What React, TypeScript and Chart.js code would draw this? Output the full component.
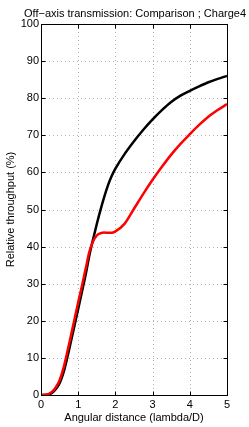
import React, { useEffect, useRef } from "react";
import { Chart, registerables } from "chart.js";

Chart.register(...registerables);

const titleText = "Off\u2212axis transmission: Comparison ; Charge4";
const xTitle = "Angular distance (lambda/D)";
const yTitle = "Relative throughput (%)";

const xValues = [0, 0.1, 0.2, 0.3, 0.4, 0.5, 0.6, 0.7, 0.8, 0.9, 1.0, 1.1, 1.2, 1.3, 1.4, 1.5, 1.6, 1.7, 1.8, 1.9, 2.0, 2.25, 2.5, 2.75, 3.0, 3.25, 3.5, 3.75, 4.0, 4.25, 4.5, 4.75, 5.0];
const blackValues = [0, 0.02, 0.15, 0.6, 1.6, 3.2, 5.9, 9.8, 14.2, 18.7, 23.2, 27.8, 32.4, 37.6, 42, 46.1, 49.9, 53.4, 56.5, 59, 61, 65, 68.4, 71.5, 74.3, 76.8, 79, 80.7, 82, 83.2, 84.3, 85.2, 86];
const redValues = [0, 0.05, 0.25, 0.9, 2.1, 4, 7.1, 11.3, 15.8, 20.4, 25, 29.4, 34, 38.6, 41.4, 43, 43.6, 43.8, 43.7, 43.7, 44.1, 46.2, 50.2, 54.2, 58, 61.5, 64.8, 67.7, 70.3, 72.8, 75, 76.8, 78.4];

const xTicks = [0, 1, 2, 3, 4, 5];
const yTicks = [0, 10, 20, 30, 40, 50, 60, 70, 80, 90, 100];

const FONT = "'Liberation Sans', Arial, Helvetica, sans-serif";

const decorPlugin = {
  id: "matlabDecor",
  beforeDatasetsDraw(chart: any) {
    const { ctx, chartArea, scales } = chart;
    const { left, right, top, bottom } = chartArea;
    ctx.save();
    ctx.strokeStyle = "rgba(0,0,0,0.3)";
    ctx.lineWidth = 1;
    ctx.setLineDash([1, 3]);
    xTicks.forEach((v) => {
      const px = Math.round(scales.x.getPixelForValue(v)) + 0.5;
      if (v === xTicks[0] || v === xTicks[xTicks.length - 1]) return;
      ctx.beginPath();
      ctx.moveTo(px, top);
      ctx.lineTo(px, bottom);
      ctx.stroke();
    });
    yTicks.forEach((v) => {
      const py = Math.round(scales.y.getPixelForValue(v)) + 0.5;
      if (v === yTicks[0] || v === yTicks[yTicks.length - 1]) return;
      ctx.beginPath();
      ctx.moveTo(left, py);
      ctx.lineTo(right, py);
      ctx.stroke();
    });
    ctx.restore();
  },
  afterDatasetsDraw(chart: any) {
    const { ctx, chartArea, scales } = chart;
    const { left, right, top, bottom } = chartArea;
    ctx.save();
    ctx.strokeStyle = "#000";
    ctx.lineWidth = 1;
    ctx.setLineDash([]);
    const L = Math.round(left) + 0.5;
    const R = Math.round(right) + 0.5;
    const T = Math.round(top) + 0.5;
    const B = Math.round(bottom) + 0.5;
    ctx.strokeRect(L, T, R - L, B - T);
    const tl = 4;
    xTicks.forEach((v) => {
      const px = Math.round(scales.x.getPixelForValue(v)) + 0.5;
      ctx.beginPath();
      ctx.moveTo(px, B);
      ctx.lineTo(px, B - tl);
      ctx.moveTo(px, T);
      ctx.lineTo(px, T + tl);
      ctx.stroke();
    });
    yTicks.forEach((v) => {
      const py = Math.round(scales.y.getPixelForValue(v)) + 0.5;
      ctx.beginPath();
      ctx.moveTo(L, py);
      ctx.lineTo(L + tl, py);
      ctx.moveTo(R, py);
      ctx.lineTo(R - tl, py);
      ctx.stroke();
    });
    ctx.fillStyle = "#000";
    ctx.font = `11px ${FONT}`;
    ctx.textAlign = "center";
    ctx.textBaseline = "alphabetic";
    ctx.fillText(titleText, (left + right) / 2 + 1, 17);
    ctx.save();
    ctx.translate(14, (top + bottom) / 2);
    ctx.rotate(-Math.PI / 2);
    ctx.fillText(yTitle, 0, 0);
    ctx.restore();
    ctx.fillText(xTitle, (left + right) / 2, 421);
    ctx.restore();
  },
};

export default function App() {
  const canvasRef = useRef<HTMLCanvasElement | null>(null);

  useEffect(() => {
    if (!canvasRef.current) return;
    const chart = new Chart(canvasRef.current, {
      type: "line",
      data: {
        datasets: [
          {
            label: "Red",
            data: xValues.map((x, i) => ({ x, y: redValues[i] })),
            borderColor: "#ff0000",
            borderWidth: 2.5,
            pointRadius: 0,
            cubicInterpolationMode: "monotone",
            fill: false,
          },
          {
            label: "Black",
            data: xValues.map((x, i) => ({ x, y: blackValues[i] })),
            borderColor: "#000000",
            borderWidth: 2.5,
            pointRadius: 0,
            cubicInterpolationMode: "monotone",
            fill: false,
          },
        ],
      },
      options: {
        animation: false,
        responsive: false,
        layout: { padding: { top: 24, right: 22, left: 0, bottom: 0 } },
        plugins: {
          legend: { display: false },
          tooltip: { enabled: false },
          title: { display: false },
        },
        scales: {
          x: {
            type: "linear",
            min: 0,
            max: 5,
            grid: { display: false, drawTicks: false },
            border: { display: false },
            afterFit: (s: any) => {
              s.height = 32;
            },
            ticks: {
              stepSize: 1,
              padding: 3,
              color: "#000",
              font: { family: FONT, size: 11 },
              maxRotation: 0,
            },
          },
          y: {
            type: "linear",
            min: 0,
            max: 100,
            grid: { display: false, drawTicks: false },
            border: { display: false },
            afterFit: (s: any) => {
              s.width = 41;
            },
            ticks: {
              stepSize: 10,
              padding: 2,
              color: "#000",
              font: { family: FONT, size: 11 },
            },
          },
        },
      },
      plugins: [decorPlugin],
    } as any);
    return () => chart.destroy();
  }, []);

  return (
    <div style={{ position: "absolute", left: 0, top: 0, width: 249, height: 427, background: "#fff" }}>
      <canvas ref={canvasRef} width={249} height={427} style={{ display: "block" }} />
    </div>
  );
}
